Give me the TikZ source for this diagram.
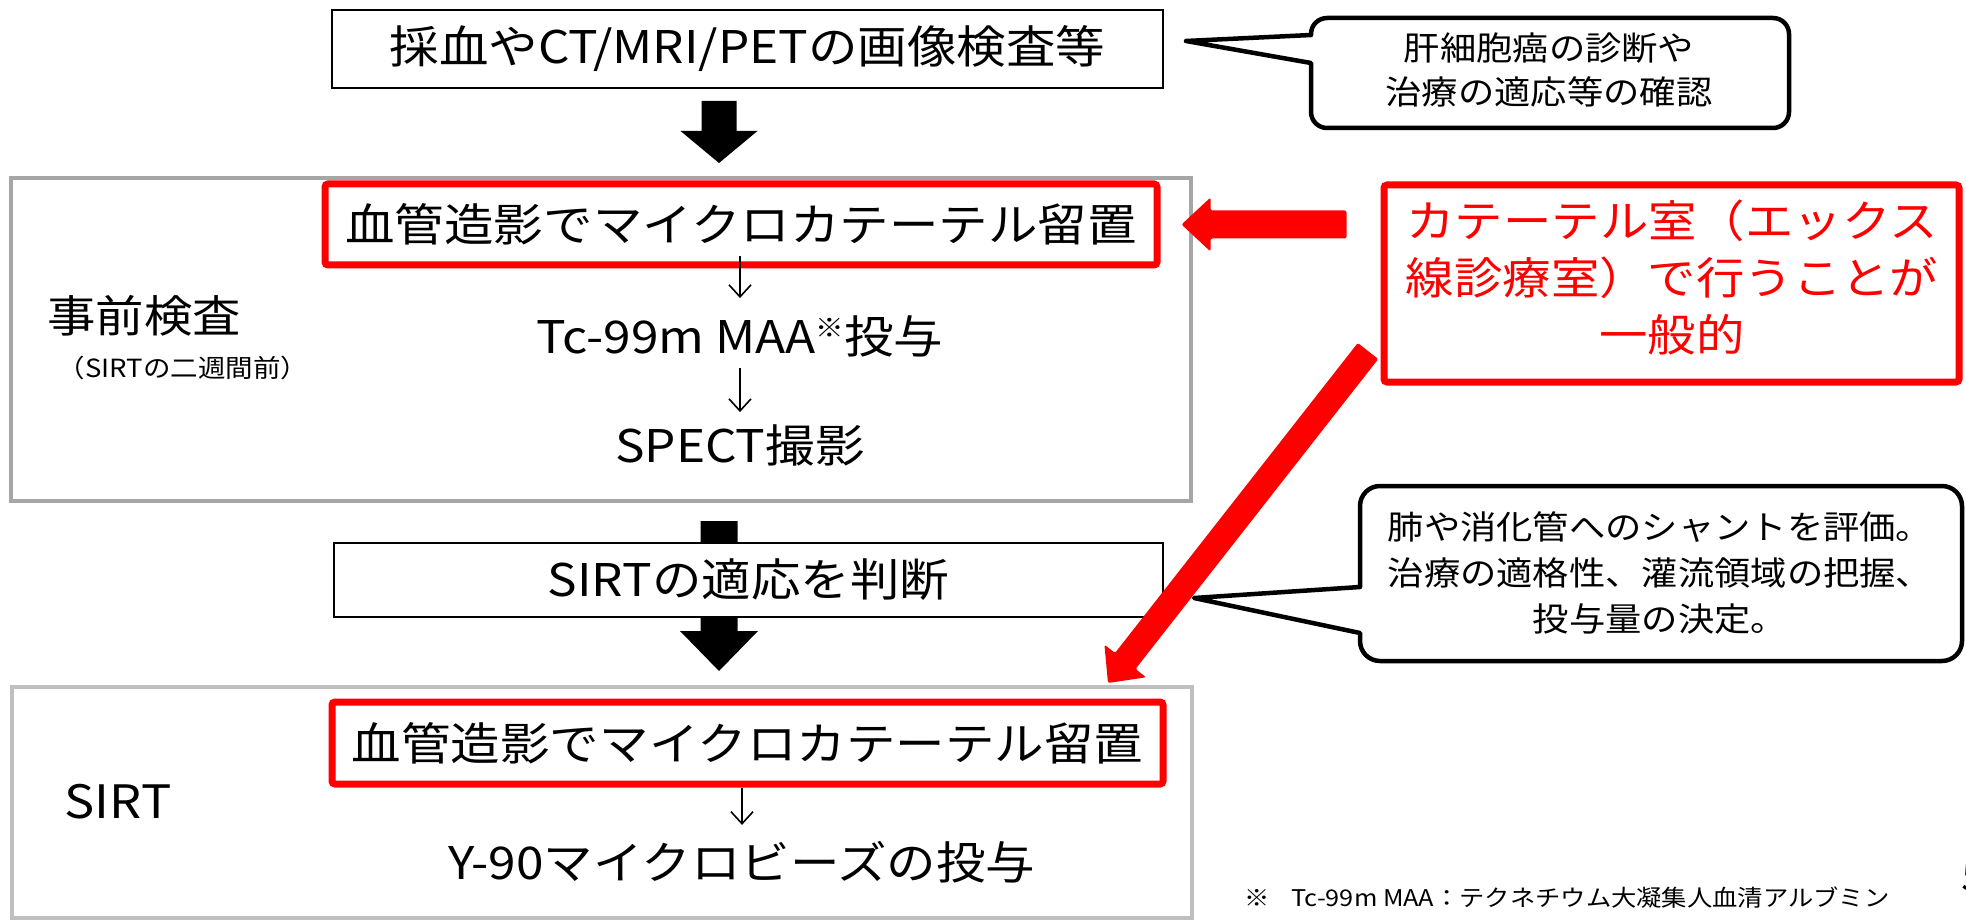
\documentclass[tikz,border=0pt]{standalone}
\usepackage{fontspec}
\setmainfont{Noto Sans CJK JP}[FakeStretch=1.1]
\usetikzlibrary{calc,arrows.meta}
\definecolor{pgray}{HTML}{A6A6A6}
\definecolor{sgray}{HTML}{BFBFBF}
\definecolor{myred}{HTML}{FF0000}
\newcommand\blockarr[6]{%
  \path ($(#3)!#6!(#2)$) coordinate (bh);
  \fill[#1] ($(#2)!#4!90:(#3)$) -- ($(bh)!#4!90:(#3)$) -- ($(bh)!#5!90:(#3)$) -- (#3) -- ($(bh)!#5!-90:(#3)$) -- ($(bh)!#4!-90:(#3)$) -- ($(#2)!#4!-90:(#3)$) -- cycle;}
\begin{document}
\begin{tikzpicture}[x=1pt,y=-1pt,
  blackbox/.style={draw=black, line width=2pt, fill=white, inner sep=0pt, font=\fontsize{45}{54}\selectfont},
  redbox/.style={draw=myred, line width=7pt, rounded corners=3pt, inner sep=0pt, font=\fontsize{45}{54}\selectfont},
  txt/.style={inner sep=0pt, font=\fontsize{45}{54}\selectfont},
  ctxt/.style={inner sep=0pt, align=center, font=\fontsize{33}{44.5}\selectfont},
  thinarrow/.style={line width=1.6pt, -{Straight Barb[length=12pt,width=22pt]}},
  callout/.style={draw=black, line width=4.5pt, fill=white, line join=round}]
\useasboundingbox (0,0) rectangle (1966,920);
\fill[white] (0,0) rectangle (1966,920);

% top box and callout
\node[blackbox, minimum width=831pt, minimum height=78pt] (top) at (747.5,49) {採血やCT/MRI/PETの画像検査等};
\coordinate (c1tip) at (1186,41);
\draw[callout] (1311,63) -- (1311,112) arc(180:90:16) -- (1773,128) arc(90:0:16) -- (1789,34) arc(0:-90:16) -- (1327,18) arc(270:180:16) -- (1311,35) -- (c1tip) -- cycle;
\node[ctxt] (c1) at (1549,70) {肝細胞癌の診断や\\治療の適応等の確認};

% pre-exam block
\node[draw=pgray, line width=4pt, minimum width=1180pt, minimum height=323pt] (pre) at (601,339.5) {};
\node[redbox, minimum width=832pt, minimum height=81pt] (red1) at (741,224.5) {血管造影でマイクロカテーテル留置};
\node[txt] (tc) at (740,336) {Tc-99m MAA\raisebox{16pt}{\fontsize{26}{26}\selectfont ※}投与};
\node[txt] (spect) at (740,445) {SPECT撮影};
\node[txt, font=\fontsize{44}{50}\selectfont] (jizen) at (144,316) {事前検査};
\node[inner sep=0pt, font=\fontsize{25}{25}\selectfont] (jizen2) at (183,368) {（SIRTの二週間前）};
\draw[thinarrow, shorten <=-12pt, shorten >=17pt] (tc.north |- red1.south) -- (tc.north);
\draw[thinarrow, shorten <=11pt, shorten >=12pt] (tc.south) -- (spect.north);

% black arrow 1
\coordinate (ax) at (719,0);
\coordinate (b1a) at ($(top.south -| ax)+(0,12)$);
\coordinate (b1b) at ($(pre.north -| ax)+(0,-13)$);
\blockarr{black}{b1a}{b1b}{17.5pt}{38.5pt}{32pt}

% SIRT block
\node[draw=sgray, line width=4pt, minimum width=1180pt, minimum height=231pt] (sirt) at (602,802.5) {};
\node[redbox, minimum width=831pt, minimum height=82pt] (red2) at (747.5,743) {血管造影でマイクロカテーテル留置};
\node[txt] (y90) at (742,862) {Y-90マイクロビーズの投与};
\node[inner sep=0pt, font=\fontsize{46}{46}\selectfont] (sirtlbl) at (118,802) {SIRT};
\draw[thinarrow, shorten <=0pt, shorten >=16pt] (y90.north |- red2.south) -- (y90.north);

% black arrow 2 and judge box
\coordinate (b2a) at ($(pre.south -| ax)+(0,18)$);
\coordinate (b2b) at ($(sirt.north -| ax)+(0,-14)$);
\blockarr{black}{b2a}{b2b}{18.5pt}{39pt}{40pt}
\node[blackbox, minimum width=829pt, minimum height=74pt] (judge) at (748.5,580) {SIRTの適応を判断};

% callout 2
\coordinate (c2tip) at (1194,598);
\draw[callout] (1360,633) -- (1360,641) arc(180:90:20) -- (1942,661) arc(90:0:20) -- (1962,506) arc(0:-90:20) -- (1380,486) arc(270:180:20) -- (1360,587) -- (c2tip) -- cycle;
\node[ctxt, font=\fontsize{33}{46}\selectfont] (c2) at (1660,573) {肺や消化管へのシャントを評価。\\治療の適格性、灌流領域の把握、\\投与量の決定。};

% catheter room box
\node[redbox, minimum width=575pt, minimum height=197pt] (cath) at (1671.5,283.5) {};
\node[inner sep=0pt, align=center, text=myred, font=\fontsize{44}{57}\selectfont] (cathtxt) at (1672,277) {カテーテル室（エックス\\線診療室）で行うことが\\一般的};

% red arrows
\coordinate (rla) at ($(cath.west |- red1.east)+(-34,0)$);
\coordinate (rlb) at ($(red1.east)+(21,0)$);
\blockarr{myred, rounded corners=2pt}{rla}{rlb}{14pt}{27pt}{29pt}
\coordinate (dA) at (1368,351);
\coordinate (dB) at (1108,683);
\blockarr{myred, rounded corners=2pt}{dA}{dB}{13pt}{26.5pt}{28pt}

% footnote and page number
\node[anchor=west, inner sep=0pt, font=\fontsize{23}{23}\selectfont] (note) at (1244,898) {※\hspace{22pt}Tc-99m MAA：テクネチウム大凝集人血清アルブミン};
\node[anchor=west, inner sep=0pt, font=\fontsize{43}{43}\selectfont] (pg) at (1961,876) {5};
\end{tikzpicture}
\end{document}
